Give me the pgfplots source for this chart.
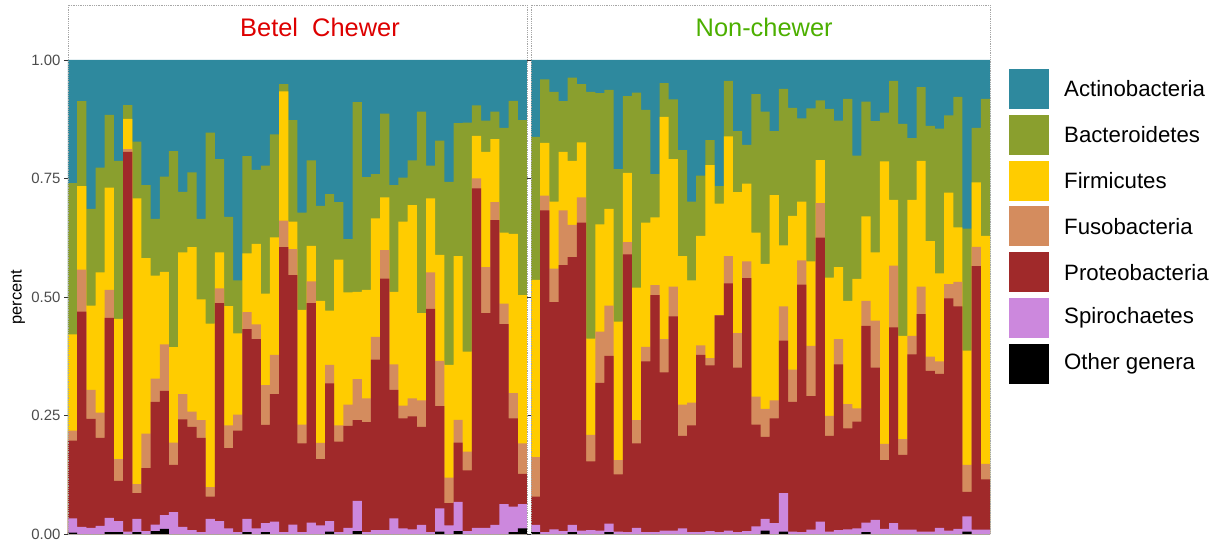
\documentclass[border=0pt]{standalone}
\usepackage{fontspec}
\setmainfont{Liberation Sans}
\usepackage{pgfplots}
\pgfplotsset{compat=1.18}
\usepackage{pgfplotstable}

\definecolor{act}{HTML}{2E899E}
\definecolor{bact}{HTML}{8A9F2E}
\definecolor{firm}{HTML}{FFCC00}
\definecolor{fuso}{HTML}{D48C5E}
\definecolor{prot}{HTML}{A0292A}
\definecolor{spir}{HTML}{CC88DD}
\definecolor{oth}{HTML}{000000}
\definecolor{titlered}{HTML}{DD0000}
\definecolor{titlegreen}{HTML}{4CAF00}

% cumulative tops of each layer (stack order bottom -> top:
% other, spirochaetes, proteobacteria, fusobacteria, firmicutes, bacteroidetes, actinobacteria)
\pgfplotstableread{
x act bact firm fuso prot spir oth
1 1 0.740 0.421 0.218 0.197 0.033 0.003
2 1 0.913 0.734 0.558 0.469 0.015 0
3 1 0.686 0.482 0.304 0.243 0.013 0
4 1 0.773 0.552 0.256 0.203 0.017 0
5 1 0.884 0.731 0.515 0.456 0.034 0.004
6 1 0.787 0.454 0.158 0.112 0.027 0.004
7 1 0.905 0.876 0.812 0.806 0.005 0
8 1 0.828 0.708 0.105 0.086 0.032 0.004
9 1 0.736 0.582 0.212 0.139 0.006 0
10 1 0.665 0.545 0.328 0.279 0.020 0.006
11 1 0.754 0.553 0.400 0.302 0.040 0.011
12 1 0.808 0.394 0.193 0.146 0.046 0
13 1 0.722 0.594 0.295 0.242 0.015 0
14 1 0.763 0.605 0.258 0.226 0.008 0
15 1 0.665 0.495 0.240 0.203 0.004 0
16 1 0.847 0.444 0.099 0.079 0.032 0
17 1 0.791 0.594 0.518 0.487 0.027 0
18 1 0.669 0.481 0.229 0.181 0.012 0
19 1 0.535 0.423 0.252 0.218 0.004 0
20 1 0.797 0.592 0.468 0.432 0.032 0.004
21 1 0.768 0.612 0.442 0.411 0.012 0
22 1 0.777 0.507 0.314 0.230 0.023 0.004
23 1 0.843 0.626 0.378 0.295 0.026 0
24 1 0.949 0.934 0.661 0.605 0.004 0
25 1 0.873 0.659 0.601 0.546 0.020 0
26 1 0.678 0.473 0.231 0.191 0.004 0
27 1 0.788 0.608 0.533 0.487 0.024 0
28 1 0.692 0.492 0.192 0.158 0.018 0
29 1 0.717 0.471 0.357 0.318 0.027 0.005
30 1 0.700 0.579 0.229 0.195 0.004 0
31 1 0.622 0.510 0.273 0.228 0.013 0
32 1 0.911 0.511 0.327 0.240 0.070 0.006
33 1 0.753 0.515 0.286 0.236 0.004 0
34 1 0.759 0.666 0.416 0.368 0.008 0
35 1 0.887 0.710 0.599 0.539 0.008 0
36 1 0.736 0.511 0.358 0.304 0.033 0
37 1 0.752 0.659 0.271 0.244 0.012 0
38 1 0.788 0.694 0.286 0.248 0.010 0
39 1 0.891 0.466 0.282 0.226 0.019 0
40 1 0.777 0.708 0.552 0.475 0.004 0
41 1 0.830 0.589 0.365 0.270 0.054 0.005
42 1 0.743 0.357 0.119 0.065 0.018 0
43 1 0.867 0.586 0.241 0.193 0.068 0.006
44 1 0.868 0.385 0.174 0.134 0.006 0
45 1 0.904 0.840 0.750 0.729 0.013 0
46 1 0.872 0.806 0.563 0.466 0.013 0
47 1 0.891 0.833 0.700 0.662 0.019 0
48 1 0.857 0.636 0.486 0.443 0.063 0
49 1 0.914 0.633 0.297 0.244 0.058 0.004
50 1 0.873 0.504 0.191 0.127 0.063 0.012
}\chewer

\pgfplotstableread{
x act bact firm fuso prot spir oth
1 1 0.838 0.536 0.162 0.079 0.019 0.004
2 1 0.959 0.825 0.714 0.683 0.004 0
3 1 0.933 0.701 0.560 0.489 0.010 0
4 1 0.913 0.806 0.683 0.567 0.006 0
5 1 0.963 0.787 0.652 0.584 0.019 0.004
6 1 0.949 0.826 0.710 0.657 0.007 0
7 1 0.933 0.412 0.209 0.153 0.008 0
8 1 0.930 0.653 0.427 0.319 0.007 0
9 1 0.937 0.686 0.482 0.376 0.022 0.004
10 1 0.770 0.448 0.156 0.126 0.005 0
11 1 0.924 0.762 0.616 0.590 0.004 0
12 1 0.931 0.520 0.240 0.191 0.013 0
13 1 0.895 0.657 0.395 0.364 0.004 0
14 1 0.759 0.668 0.525 0.504 0.004 0
15 1 0.951 0.880 0.411 0.341 0.007 0
16 1 0.917 0.791 0.522 0.459 0.007 0
17 1 0.810 0.586 0.273 0.207 0.012 0
18 1 0.701 0.535 0.277 0.229 0.004 0
19 1 0.756 0.629 0.398 0.378 0.004 0
20 1 0.831 0.778 0.371 0.356 0.006 0
21 1 0.734 0.697 0.462 0.461 0.004 0
22 1 0.956 0.839 0.586 0.529 0.007 0
23 1 0.850 0.721 0.424 0.351 0.004 0
24 1 0.821 0.739 0.575 0.540 0.006 0
25 1 0.928 0.636 0.290 0.231 0.016 0
26 1 0.891 0.570 0.264 0.205 0.032 0.007
27 1 0.850 0.715 0.282 0.244 0.023 0
28 1 0.939 0.609 0.480 0.408 0.086 0.005
29 1 0.899 0.671 0.347 0.279 0.005 0
30 1 0.877 0.701 0.577 0.526 0.004 0
31 1 0.898 0.575 0.397 0.291 0.009 0
32 1 0.915 0.789 0.698 0.625 0.026 0
33 1 0.897 0.541 0.249 0.207 0.005 0
34 1 0.872 0.563 0.411 0.358 0.008 0
35 1 0.918 0.492 0.274 0.223 0.010 0
36 1 0.798 0.538 0.265 0.237 0.012 0
37 1 0.912 0.670 0.492 0.439 0.024 0.004
38 1 0.871 0.594 0.450 0.351 0.030 0
39 1 0.889 0.786 0.190 0.156 0.011 0
40 1 0.956 0.705 0.566 0.436 0.023 0
41 1 0.865 0.418 0.200 0.167 0.009 0
42 1 0.835 0.705 0.418 0.379 0.009 0
43 1 0.943 0.787 0.522 0.464 0.005 0
44 1 0.861 0.618 0.374 0.344 0.005 0
45 1 0.855 0.550 0.364 0.338 0.013 0
46 1 0.883 0.720 0.527 0.497 0.007 0
47 1 0.922 0.647 0.532 0.480 0.011 0
48 1 0.644 0.387 0.146 0.089 0.037 0.005
49 1 0.857 0.742 0.606 0.565 0.009 0
50 1 0.918 0.629 0.148 0.115 0.009 0
}\nonchewer

\pgfplotsset{
  panel/.style={
    scale only axis, width=459bp, height=474bp,
    xmin=0.5, xmax=50.5, ymin=0, ymax=1,
    axis line style={draw=none},
    xtick=\empty, clip=false,
    tick align=outside, major tick length=4bp,
    y tick style={black!80, line width=0.9bp},
    yticklabel style={font=\fontsize{15}{18}\selectfont, text=black!70,
      /pgf/number format/fixed, /pgf/number format/fixed zerofill,
      /pgf/number format/precision=2, /pgf/number format/assume math mode=true},
  },
  layer/.style={ybar, bar width=1, draw=none, fill=#1},
}

\newcommand\layers[1]{%
  \addplot[layer=act]  table[x=x, y=act]  {#1};
  \addplot[layer=bact] table[x=x, y=bact] {#1};
  \addplot[layer=firm] table[x=x, y=firm] {#1};
  \addplot[layer=fuso] table[x=x, y=fuso] {#1};
  \addplot[layer=prot] table[x=x, y=prot] {#1};
  \addplot[layer=spir] table[x=x, y=spir] {#1};
  \addplot[layer=oth]  table[x=x, y=oth]  {#1};
}

\newcommand\strip[3]{%
  \draw[gray!70, line width=0.8bp, densely dotted]
    (rel axis cs:0,0) rectangle (rel axis cs:1,1.116);
  \node[anchor=base, font=\fontsize{25.5}{30}\selectfont, text=#2, inner sep=0pt]
    at (rel axis cs:#3,1.0506) {#1};
}

\begin{document}
\begin{tikzpicture}
\useasboundingbox (-68bp,-13bp) rectangle (1151bp,534bp);

\begin{axis}[panel, at={(0bp,0bp)}, anchor=south west,
  ytick={0,0.25,0.5,0.75,1}]
  \layers{\chewer}
  \strip{Betel\ \ Chewer}{titlered}{0.549}
\end{axis}

\begin{axis}[panel, at={(463bp,0bp)}, anchor=south west, ytick=\empty]
  \layers{\nonchewer}
  \strip{Non-chewer}{titlegreen}{0.508}
\end{axis}

\node[rotate=90, font=\fontsize{16.5}{20}\selectfont] at (-50bp,237bp) {percent};

% legend
\foreach \c/\t [count=\i from 0] in {act/Actinobacteria, bact/Bacteroidetes,
    firm/Firmicutes, fuso/Fusobacteria, prot/Proteobacteria,
    spir/Spirochaetes, oth/Other genera} {
  \fill[\c] (941bp,{465bp-45.8bp*\i}) rectangle (981bp,{425bp-45.8bp*\i});
  \node[anchor=west, inner sep=0pt, font=\fontsize{22.3}{27}\selectfont]
    at (996bp,{445bp-45.8bp*\i}) {\t};
}
\end{tikzpicture}
\end{document}
